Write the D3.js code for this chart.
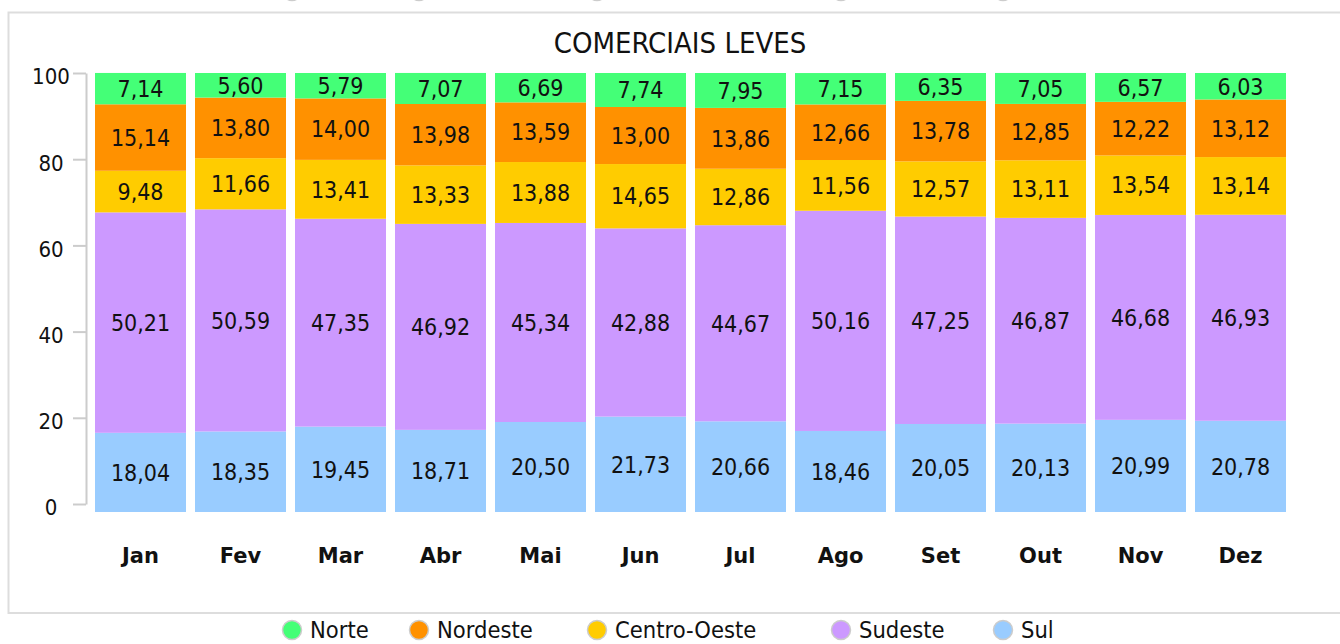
<!DOCTYPE html>
<html>
<head>
<meta charset="utf-8">
<script src="https://cdn.jsdelivr.net/npm/d3@7/dist/d3.min.js"></script>
<style>
  body { margin: 0; background: #fff; }
  svg { display: block; }
</style>
</head>
<body>
<script>

    var months = ["Jan", "Fev", "Mar", "Abr", "Mai", "Jun", "Jul", "Ago", "Set", "Out", "Nov", "Dez"];

    // stacked from bottom to top
    var seriesNames = ["Sul", "Sudeste", "Centro-Oeste", "Nordeste", "Norte"];
    var legendOrder = ["Norte", "Nordeste", "Centro-Oeste", "Sudeste", "Sul"];

    var norte       = [7.14, 5.60, 5.79, 7.07, 6.69, 7.74, 7.95, 7.15, 6.35, 7.05, 6.57, 6.03];
    var nordeste    = [15.14, 13.80, 14.00, 13.98, 13.59, 13.00, 13.86, 12.66, 13.78, 12.85, 12.22, 13.12];
    var centroOeste = [9.48, 11.66, 13.41, 13.33, 13.88, 14.65, 12.86, 11.56, 12.57, 13.11, 13.54, 13.14];
    var sudeste     = [50.21, 50.59, 47.35, 46.92, 45.34, 42.88, 44.67, 50.16, 47.25, 46.87, 46.68, 46.93];
    var sul         = [18.04, 18.35, 19.45, 18.71, 20.50, 21.73, 20.66, 18.46, 20.05, 20.13, 20.99, 20.78];

    var yTicks = [0, 20, 40, 60, 80, 100];

    var colors = {
        "Norte": "#44ff77",
        "Nordeste": "#ff9100",
        "Centro-Oeste": "#ffcc00",
        "Sudeste": "#cc99ff",
        "Sul": "#99ccff"
    };

    var valuesBySeries = {
        "Norte": norte,
        "Nordeste": nordeste,
        "Centro-Oeste": centroOeste,
        "Sudeste": sudeste,
        "Sul": sul
    };

    var rows = months.map((m, i) => {
        var r = { month: m };
        seriesNames.forEach((s) => r[s] = valuesBySeries[s][i]);
        return r;
    });

    var width = 1340,
        height = 644,
        font = "'DejaVu Sans Condensed', 'DejaVu Sans', sans-serif";

    var svg = d3.select("body")
                .append("svg")
                .attr("width", width)
                .attr("height", height);

    // frame
    svg.append("rect")
       .attr("x", 8.5)
       .attr("y", 12.5)
       .attr("width", 1345)
       .attr("height", 600.5)
       .attr("fill", "none")
       .attr("stroke", "#dddddd")
       .attr("stroke-width", 2);

    svg.append("text")
       .attr("x", 680)
       .attr("y", 53)
       .attr("text-anchor", "middle")
       .attr("font-family", font)
       .attr("font-size", 29)
       .attr("fill", "#111")
       .text("COMERCIAIS LEVES");

    var x = d3.scaleBand()
              .domain(months)
              .range([90.5, 1290.5])
              .paddingInner(0.09)
              .paddingOuter(0.045);

    var y = d3.scaleLinear()
              .domain([0, 100])
              .range([512, 73]);

    var yAxisScale = d3.scaleLinear()
              .domain([0, 100])
              .range([504, 73]);

    var yAxis = svg.append("g")
                   .attr("transform", "translate(86,0)")
                   .call(d3.axisLeft(yAxisScale).tickValues(yTicks).tickSize(13).tickPadding(0).tickSizeOuter(0));

    yAxis.select(".domain").attr("stroke", "#cccccc").attr("stroke-width", 2);
    yAxis.selectAll(".tick line").attr("stroke", "#cccccc").attr("stroke-width", 2);
    yAxis.selectAll(".tick text")
         .attr("x", -35)
         .attr("dy", "0.68em")
         .attr("y", -4)
         .attr("text-anchor", "middle")
         .attr("font-family", font)
         .attr("font-size", 22)
         .attr("fill", "#111");

    var stacked = d3.stack().keys(seriesNames)(rows);

    var layers = svg.selectAll("g.layer")
                    .data(stacked)
                    .enter()
                    .append("g")
                    .attr("class", "layer")
                    .attr("fill", (d) => colors[d.key]);

    layers.selectAll("rect")
          .data((d) => d)
          .enter()
          .append("rect")
          .attr("x", (d) => x(d.data.month))
          .attr("width", x.bandwidth())
          .attr("y", (d) => y(d[1]))
          .attr("height", (d) => y(d[0]) - y(d[1]));

    layers.selectAll("text")
          .data((d) => d)
          .enter()
          .append("text")
          .attr("x", (d) => x(d.data.month) + x.bandwidth() / 2)
          .attr("y", (d) => (y(d[0]) + y(d[1])) / 2)
          .attr("dy", "0.36em")
          .attr("text-anchor", "middle")
          .attr("font-family", font)
          .attr("font-size", 23)
          .attr("fill", "#111")
          .text((d) => d3.format(".2f")(d[1] - d[0]).replace(".", ","));

    svg.selectAll("text.month")
       .data(months)
       .enter()
       .append("text")
       .attr("class", "month")
       .attr("x", (d) => x(d) + x.bandwidth() / 2)
       .attr("y", 563)
       .attr("text-anchor", "middle")
       .attr("font-family", "'DejaVu Sans', sans-serif")
       .attr("font-weight", "bold")
       .attr("font-size", 21)
       .attr("fill", "#111")
       .text((d) => d);

    // legend; a clipped copy of the markers also peeks in at the top edge
    var legendX = [292, 419, 597, 841, 1003];

    svg.selectAll("circle.peek")
       .data(legendOrder)
       .enter()
       .append("circle")
       .attr("class", "peek")
       .attr("cx", (d, i) => legendX[i])
       .attr("cy", -9)
       .attr("r", 9.5)
       .attr("fill", (d) => colors[d])
       .attr("stroke", "#cccccc")
       .attr("stroke-width", 1.5);

    var items = svg.selectAll("g.legend")
                   .data(legendOrder)
                   .enter()
                   .append("g")
                   .attr("class", "legend")
                   .attr("transform", (d, i) => "translate(" + legendX[i] + ",630)");

    items.append("circle")
         .attr("r", 9.5)
         .attr("fill", (d) => colors[d])
         .attr("stroke", "#cccccc")
         .attr("stroke-width", 1.5);

    items.append("text")
         .attr("x", 18)
         .attr("y", 8)
         .attr("font-family", font)
         .attr("font-size", 23.5)
         .attr("fill", "#111")
         .text((d) => d);

</script>
</body>
</html>
